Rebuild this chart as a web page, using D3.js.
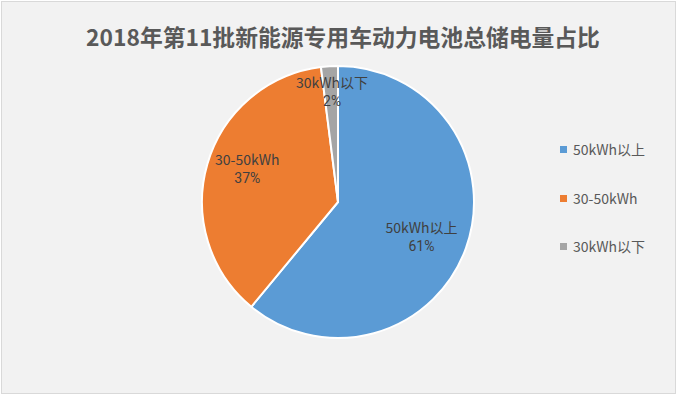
<!DOCTYPE html>
<html><head><meta charset="utf-8">
<script src="https://cdn.jsdelivr.net/npm/d3@7"></script>
<style>html,body{margin:0;padding:0;background:#fff;}svg{display:block;}</style>
</head><body>
<svg id="c" width="678" height="396"></svg>
<script>
const categories = ["50kWh以上", "30-50kWh", "30kWh以下"];
const values = [61, 37, 2];
const percentLabels = ["61%", "37%", "2%"];
const colors = ["#5b9bd5", "#ed7d31", "#a5a5a5"];
const title = "2018年第11批新能源专用车动力电池总储电量占比";

const svg = d3.select("#c");
const W = 678, H = 396;
const cjk = "'Noto Sans CJK SC', sans-serif";
svg.append("rect").attr("x", 1.5).attr("y", 1.5).attr("width", W - 4).attr("height", H - 4)
  .attr("fill", "#f2f2f2").attr("stroke", "#d9d9d9").attr("stroke-width", 1);

svg.append("text").attr("x", 343).attr("y", 46).attr("text-anchor", "middle")
  .attr("font-family", cjk).attr("font-weight", "bold")
  .attr("font-size", 22.8).attr("fill", "#595959").text(title);

const cx = 338, cy = 202, r = 136;
const g = svg.append("g").attr("transform", `translate(${cx},${cy})`);
const pie = d3.pie().sort(null).value(d => d)(values);
const arc = d3.arc().innerRadius(0).outerRadius(r);
g.selectAll("path").data(pie).enter().append("path")
  .attr("d", arc).attr("fill", (d, i) => colors[i])
  .attr("stroke", "#ffffff").attr("stroke-width", 2).attr("stroke-linejoin", "round");

const labelR = [0.66, 0.71, 0.81];
const nudge = [[-1, 5], [2, -6], [1, 0]];
pie.forEach((d, i) => {
  const a = (d.startAngle + d.endAngle) / 2;
  const lr = r * labelR[i];
  const x = Math.sin(a) * lr + nudge[i][0], y = -Math.cos(a) * lr + nudge[i][1];
  g.append("text").attr("text-anchor", "middle").attr("x", x).attr("y", y - 4.5)
    .attr("font-family", cjk).attr("font-size", 14).attr("fill", "#404040").text(categories[i]);
  g.append("text").attr("text-anchor", "middle").attr("x", x).attr("y", y + 13.5)
    .attr("font-family", "Roboto, sans-serif").attr("font-size", 14).attr("fill", "#404040").text(percentLabels[i]);
});

const ly = [149.5, 198.5, 246.5];
categories.forEach((c, i) => {
  svg.append("rect").attr("x", 560).attr("y", ly[i] - 3.5).attr("width", 7).attr("height", 7).attr("fill", colors[i]);
  svg.append("text").attr("x", 573).attr("y", ly[i] + 5)
    .attr("font-family", cjk).attr("font-size", 14).attr("fill", "#595959").text(c);
});
</script>
</body></html>
